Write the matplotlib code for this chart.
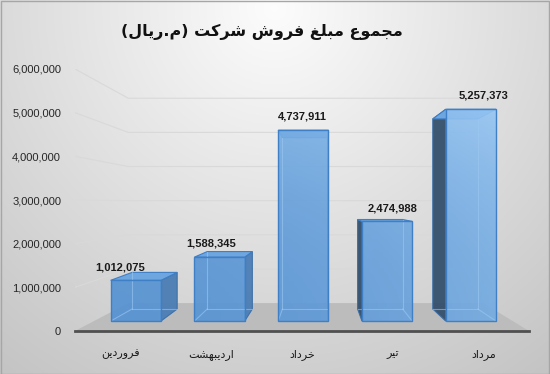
import matplotlib
matplotlib.use("Agg")
import matplotlib.pyplot as plt
import numpy as np
from matplotlib.colors import LinearSegmentedColormap
from matplotlib.patches import Polygon, Rectangle

# data
months = ["فروردین", "اردیبهشت", "خرداد", "تیر", "مرداد"]
sales = [1012075, 1588345, 4737911, 2474988, 5257373]
title = "مجموع مبلغ فروش شرکت (م.ریال)"
yticks = [0, 1000000, 2000000, 3000000, 4000000, 5000000, 6000000]

# --- minimal Persian shaping (no arabic_reshaper available) ---
FORMS = {  # isolated, final, initial, medial
    "ا": ("\uFE8D", "\uFE8E", None, None),
    "ب": ("\uFE8F", "\uFE90", "\uFE91", "\uFE92"),
    "ت": ("\uFE95", "\uFE96", "\uFE97", "\uFE98"),
    "ج": ("\uFE9D", "\uFE9E", "\uFE9F", "\uFEA0"),
    "خ": ("\uFEA5", "\uFEA6", "\uFEA7", "\uFEA8"),
    "د": ("\uFEA9", "\uFEAA", None, None),
    "ر": ("\uFEAD", "\uFEAE", None, None),
    "ش": ("\uFEB5", "\uFEB6", "\uFEB7", "\uFEB8"),
    "ع": ("\uFEC9", "\uFECA", "\uFECB", "\uFECC"),
    "غ": ("\uFECD", "\uFECE", "\uFECF", "\uFED0"),
    "ف": ("\uFED1", "\uFED2", "\uFED3", "\uFED4"),
    "ل": ("\uFEDD", "\uFEDE", "\uFEDF", "\uFEE0"),
    "م": ("\uFEE1", "\uFEE2", "\uFEE3", "\uFEE4"),
    "ن": ("\uFEE5", "\uFEE6", "\uFEE7", "\uFEE8"),
    "ه": ("\uFEE9", "\uFEEA", "\uFEEB", "\uFEEC"),
    "و": ("\uFEED", "\uFEEE", None, None),
    "ک": ("\uFB8E", "\uFB8F", "\uFB90", "\uFB91"),
    "ی": ("\uFBFC", "\uFBFD", "\uFBFE", "\uFBFF"),
}


def fa(text):
    out = []
    for i, ch in enumerate(text):
        if ch not in FORMS:
            out.append(ch)
            continue
        prev = text[i - 1] if i > 0 else None
        nxt = text[i + 1] if i + 1 < len(text) else None
        jp = prev in FORMS and FORMS[prev][2] is not None
        jn = nxt in FORMS and FORMS[ch][2] is not None
        iso, fin, ini, med = FORMS[ch]
        out.append(med if jp and jn else fin if jp else ini if jn else iso)
    return "".join(reversed(out)).translate(str.maketrans("()", ")("))


# --- perspective helpers (front plane is the axes' own data space) ---
VPX, VPY, K = 2.19, 2.93e6, 0.279
Z0, Z1, HALF = 0.30, 0.745, 0.30


def proj(c, v, z):
    s = 1.0 / (1.0 + K * z)
    return (VPX + (c - VPX) * s, VPY + (v - VPY) * s)


fig = plt.figure(figsize=(5.5, 3.74), dpi=100)

# background gradient
bg = fig.add_axes([0, 0, 1, 1], zorder=-5)
gx, gy = np.meshgrid(np.linspace(0, 1, 300), np.linspace(0, 1, 200))
r = np.sqrt(((gx - 0.5) / 0.75) ** 2 + ((gy - 0.02) / 1.1) ** 2)
shade = np.clip(0.99 - 0.2 * r, 0, 1)
bg.imshow(np.dstack([shade] * 3), extent=[0, 1, 0, 1], aspect="auto", origin="upper")
bg.axis("off")
fig.patches.append(Rectangle((0.001, 0.001), 0.997, 0.996, transform=fig.transFigure,
                             fill=False, ec="#a6a6a6", lw=1))

ax = fig.add_axes([75 / 550, 43 / 374, 454 / 550, 262 / 374])
ax.patch.set_alpha(0)
for sp in ax.spines.values():
    sp.set_visible(False)

# floor
floor = [proj(-0.5, 0, 0), proj(4.5, 0, 0), proj(4.5, 0, 1), proj(-0.5, 0, 1)]
ax.add_patch(Polygon(floor, closed=True, fc="#bcbcbc", ec="none", zorder=1))
ax.plot([-0.5, 4.5], [0, 0], color="#505050", lw=2, zorder=2, clip_on=False)

# gridlines on left wall + back wall
for v in yticks[1:]:
    pts = [proj(-0.5, v, 0), proj(-0.5, v, 1), proj(4.5, v, 1)]
    ax.plot([p[0] for p in pts], [p[1] for p in pts], color="#d9d9d9", lw=0.8, zorder=1)

blues = LinearSegmentedColormap.from_list("b", ["#5592d2", "#a8d4fc"])
ux, uy = np.meshgrid(np.linspace(0, 1, 100), np.linspace(0, 1, 100))
grad = 0.55 * uy ** 2 + 0.45 * ux ** 2

for i, val in enumerate(sales):
    l, rr = i - HALF, i + HALF
    fbl, fbr = proj(l, 0, Z0), proj(rr, 0, Z0)
    ftl, ftr = proj(l, val, Z0), proj(rr, val, Z0)
    bbl, bbr = proj(l, 0, Z1), proj(rr, 0, Z1)
    btl, btr = proj(l, val, Z1), proj(rr, val, Z1)

    if i < VPX:
        side = [fbr, bbr, btr, ftr]
        side_col = "#4b7db5"
        hidden = [[fbl, bbl], [bbl, bbr], [bbl, btl]]
    else:
        side = [fbl, bbl, btl, ftl]
        side_col = "#34506c"
        hidden = [[fbr, bbr], [bbr, bbl], [bbr, btr]]

    ax.add_patch(Polygon(side, closed=True, fc=side_col, ec="#3a6ea8", lw=0.8,
                         alpha=0.95, zorder=3))
    ax.add_patch(Polygon([ftl, ftr, btr, btl], closed=True, fc="#6ea6e0",
                         ec="#3f7fc5", lw=0.8, zorder=3))
    front = Polygon([fbl, fbr, ftr, ftl], closed=True, fc="none", ec="#3f7fc5",
                    lw=1, zorder=5)
    ax.add_patch(front)
    im = ax.imshow(grad, extent=[-0.5, 4.5, 0, 6e6], origin="lower", aspect="auto",
                   cmap=blues, vmin=0, vmax=1, alpha=0.92, zorder=4)
    im.set_clip_path(front)
    for a, b in hidden:
        ax.plot([a[0], b[0]], [a[1], b[1]], color="#9cc8f2", lw=0.8, alpha=0.6, zorder=4.5)

    ax.annotate(f"{val:,}", xy=(i, proj(i, val, Z0)[1]), xytext=(0, 6),
                textcoords="offset points", ha="center", va="bottom",
                fontsize=8, fontweight="bold", family="Liberation Sans",
                color="#1a1a1a", zorder=6, annotation_clip=False)

ax.set_xlim(-0.5, 4.5)
ax.set_ylim(0, 6e6)
ax.set_yticks(yticks)
ax.set_yticklabels([f"{v:,}" for v in yticks], family="Liberation Sans", fontsize=8,
                   color="#262626")
ax.set_xticks(range(len(months)))
ax.set_xticklabels([fa(m) for m in months], family="DejaVu Sans", fontsize=8,
                   color="#1a1a1a")
ax.tick_params(axis="y", length=0, pad=10)
ax.tick_params(axis="x", length=0, pad=13)

fig.text(262 / 550, 1 - 32 / 374, fa(title), ha="center", va="center",
         fontsize=11.5, fontweight="bold", family="DejaVu Sans", color="#111111")

fig.savefig("out.png", dpi=100)
